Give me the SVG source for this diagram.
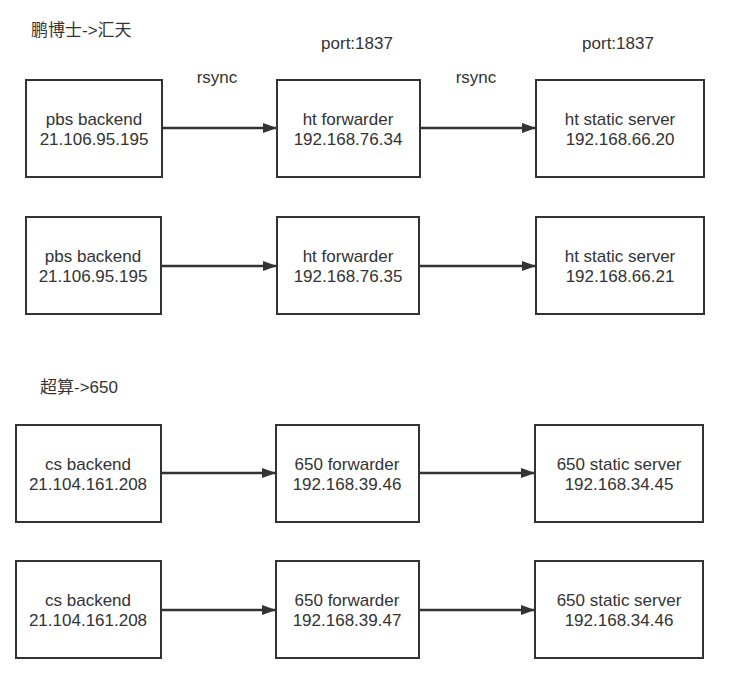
<svg xmlns="http://www.w3.org/2000/svg" width="734" height="683" viewBox="0 0 734 683">
<style>
.box{fill:#fff;stroke:#333;stroke-width:2}
.t{font-family:"Liberation Sans","Noto Sans CJK SC",sans-serif;font-size:17px;fill:#333;text-anchor:middle}
.lbl{font-family:"Liberation Sans","Noto Sans CJK SC",sans-serif;font-size:17px;fill:#333}
.c{stroke:#333;stroke-width:2.5;fill:none;marker-end:url(#ah)}
</style>
<defs>
<marker id="ah" markerWidth="14" markerHeight="12" refX="13" refY="6" orient="auto" markerUnits="userSpaceOnUse"><path d="M0,1 L14,6 L0,11 z" fill="#333"/></marker>
</defs>
<rect width="734" height="683" fill="#fff"/>
<text class="lbl" x="31" y="36">鹏博士-&gt;汇天</text>
<text class="lbl" x="40" y="393">超算-&gt;650</text>
<text class="lbl" x="357" y="49" text-anchor="middle" font-size="18">port:1837</text>
<text class="lbl" x="618" y="49" text-anchor="middle" font-size="18">port:1837</text>
<text class="lbl" x="217" y="83" text-anchor="middle">rsync</text>
<text class="lbl" x="476" y="83" text-anchor="middle">rsync</text>
<g id="connectors">
<line class="c" x1="162" y1="128" x2="276" y2="128"/>
<line class="c" x1="420" y1="128" x2="535" y2="128"/>
<line class="c" x1="161" y1="266" x2="276" y2="266"/>
<line class="c" x1="419" y1="266" x2="535" y2="266"/>
<line class="c" x1="161" y1="473" x2="275" y2="473"/>
<line class="c" x1="419" y1="473" x2="534" y2="473"/>
<line class="c" x1="161" y1="610" x2="275" y2="610"/>
<line class="c" x1="419" y1="610" x2="534" y2="610"/>
</g>
<g id="n1"><rect class="box" x="26" y="80" width="136" height="97"/><text class="t" x="94" y="125">pbs backend</text><text class="t" x="94" y="145">21.106.95.195</text></g>
<g id="n2"><rect class="box" x="277" y="80" width="143" height="97"/><text class="t" x="348" y="125">ht forwarder</text><text class="t" x="348" y="145">192.168.76.34</text></g>
<g id="n3"><rect class="box" x="536" y="80" width="168" height="97"/><text class="t" x="620" y="125">ht static server</text><text class="t" x="620" y="145">192.168.66.20</text></g>
<g id="n4"><rect class="box" x="26" y="217" width="135" height="97"/><text class="t" x="93" y="262">pbs backend</text><text class="t" x="93" y="282">21.106.95.195</text></g>
<g id="n5"><rect class="box" x="277" y="217" width="142" height="97"/><text class="t" x="348" y="262">ht forwarder</text><text class="t" x="348" y="282">192.168.76.35</text></g>
<g id="n6"><rect class="box" x="536" y="217" width="168" height="97"/><text class="t" x="620" y="262">ht static server</text><text class="t" x="620" y="282">192.168.66.21</text></g>
<g id="n7"><rect class="box" x="16" y="425" width="145" height="97"/><text class="t" x="88" y="470">cs backend</text><text class="t" x="88" y="490">21.104.161.208</text></g>
<g id="n8"><rect class="box" x="276" y="425" width="143" height="97"/><text class="t" x="347" y="470">650 forwarder</text><text class="t" x="347" y="490">192.168.39.46</text></g>
<g id="n9"><rect class="box" x="535" y="425" width="168" height="97"/><text class="t" x="619" y="470">650 static server</text><text class="t" x="619" y="490">192.168.34.45</text></g>
<g id="n10"><rect class="box" x="16" y="561" width="145" height="97"/><text class="t" x="88" y="606">cs backend</text><text class="t" x="88" y="626">21.104.161.208</text></g>
<g id="n11"><rect class="box" x="276" y="561" width="143" height="97"/><text class="t" x="347" y="606">650 forwarder</text><text class="t" x="347" y="626">192.168.39.47</text></g>
<g id="n12"><rect class="box" x="535" y="561" width="168" height="97"/><text class="t" x="619" y="606">650 static server</text><text class="t" x="619" y="626">192.168.34.46</text></g>
</svg>
